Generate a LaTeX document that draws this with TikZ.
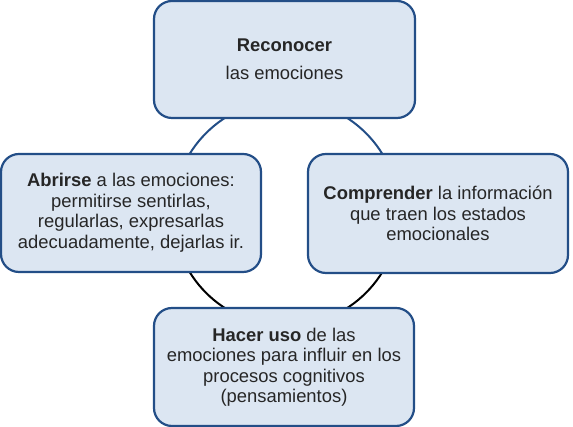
\documentclass[tikz,border=0pt]{standalone}
\usepackage{fontspec}
\setmainfont{Liberation Sans}
\usepackage{xcolor}
\usepackage{tikz}
\usetikzlibrary{positioning}

\definecolor{boxline}{RGB}{35,78,135}
\definecolor{boxfill}{RGB}{220,230,242}
\definecolor{boxtext}{RGB}{38,38,38}

\begin{document}
\begin{tikzpicture}[
  x=1pt, y=1pt,
  font=\fontsize{18.4}{20.5}\selectfont,
  stage/.style={draw=boxline, line width=2.2pt, rounded corners=18pt, fill=boxfill,
                text=boxtext, align=center, minimum width=260pt, minimum height=118pt,
                inner sep=2pt},
  ringup/.style={draw=boxline, line width=2pt},
  ringdown/.style={draw=black, line width=2pt}
]
\useasboundingbox (0,0) rectangle (573,427);
% the cycle behind the boxes
\coordinate (mid) at (286,214);
\draw[ringup]   ([shift={(0:113)}]mid) arc[start angle=0, end angle=180, radius=113];
\draw[ringdown] ([shift={(180:113)}]mid) arc[start angle=180, end angle=360, radius=113];
% the four stages
\node[stage, minimum width=261pt, minimum height=117pt] (recon) at (284.5,367.5)
  {\textbf{Reconocer}\\[7pt]las emociones};
\node[stage] (abrir) at (131,214)
  {\textbf{Abrirse} a las emociones:\\permitirse sentirlas,\\regularlas, expresarlas\\adecuadamente, dejarlas ir.};
\node[stage, minimum height=119pt] (compr) at (438,213.5)
  {\textbf{Comprender} la información\\que traen los estados\\emocionales};
\node[stage] (uso) at (284,60)
  {\textbf{Hacer uso} de las\\emociones para influir en los\\procesos cognitivos\\(pensamientos)};
\end{tikzpicture}
\end{document}
